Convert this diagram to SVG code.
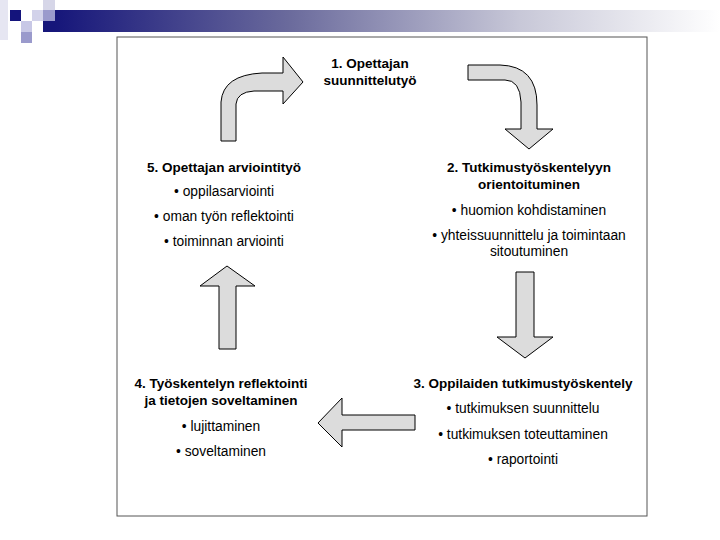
<svg xmlns="http://www.w3.org/2000/svg" width="720" height="540" viewBox="0 0 720 540">
<defs>
<linearGradient id="bar" x1="0" y1="0" x2="1" y2="0">
<stop offset="0" stop-color="#16167a"/>
<stop offset="0.35" stop-color="#6a6a9c"/>
<stop offset="0.7" stop-color="#c8c8d8"/>
<stop offset="1" stop-color="#ffffff"/>
</linearGradient>
<style>
.t{font-family:"Liberation Sans",Arial,sans-serif;font-size:13.5px;font-weight:bold;fill:#000;text-anchor:middle}
.b{font-family:"Liberation Sans",Arial,sans-serif;font-size:13.8px;fill:#000;text-anchor:middle}
.ar{fill:#dcdcdc;stroke:#000;stroke-width:1;stroke-linejoin:miter}
</style>
</defs>
<rect width="720" height="540" fill="#fff"/>
<g id="decor">
<rect x="55" y="10" width="665" height="22" fill="url(#bar)"/>
<rect x="43" y="21" width="12" height="11" fill="#16167a"/>
<rect x="0" y="0" width="8" height="40" fill="#e6e6f2"/>
<rect x="10" y="10" width="11" height="11" fill="#14147c"/>
<rect x="21" y="21" width="11" height="11" fill="#c8c8e6"/>
<rect x="21" y="32" width="11" height="11" fill="#9a9acc"/>
<rect x="32" y="10" width="11" height="11" fill="#d2d2ea"/>
<rect x="43" y="0" width="12" height="10" fill="#d6d6e8"/>
<rect x="43" y="10" width="12" height="11" fill="#9a9acc"/>
</g>
<rect id="frame" x="117" y="37" width="530" height="479" fill="#fff" stroke="#555" stroke-width="1"/>
<g id="connectors">
<path class="ar" d="M221,141 L221,102 Q223,75 262,73 L283,73 L283,57 L303,82 L283,104 L283,91 L254,91 Q237,92 236,104 L236,141 Z"/>
<path class="ar" d="M468,65 L500,65 Q537,66 537,105 L537,129 L553,129 L529,149 L505,129 L521,129 L521,102 Q520,80 505,80 L468,80 Z"/>
<path class="ar" d="M516,272 L534,272 L534,337 L553,337 L525,358 L497,337 L516,337 Z"/>
<path class="ar" d="M415,415 L415,430 L342,430 L342,447 L318,423 L342,398 L342,415 Z"/>
<path class="ar" d="M219,349 L236,349 L236,286 L255,286 L227,266 L200,286 L219,286 Z"/>
</g>
<g id="node1">
<text class="t" x="370" y="68">1. Opettajan</text>
<text class="t" x="370" y="85">suunnittelutyö</text>
</g>
<g id="node2">
<text class="t" x="529" y="172">2. Tutkimustyöskentelyyn</text>
<text class="t" x="529" y="189">orientoituminen</text>
<text class="b" x="529" y="215">• huomion kohdistaminen</text>
<text class="b" x="529" y="240">• yhteissuunnittelu ja toimintaan</text>
<text class="b" x="529" y="256">sitoutuminen</text>
</g>
<g id="node3">
<text class="t" x="523" y="388">3. Oppilaiden tutkimustyöskentely</text>
<text class="b" x="523" y="413">• tutkimuksen suunnittelu</text>
<text class="b" x="523" y="439">• tutkimuksen toteuttaminen</text>
<text class="b" x="523" y="464">• raportointi</text>
</g>
<g id="node4">
<text class="t" x="221" y="388">4. Työskentelyn reflektointi</text>
<text class="t" x="221" y="405">ja tietojen soveltaminen</text>
<text class="b" x="221" y="431">• lujittaminen</text>
<text class="b" x="221" y="456">• soveltaminen</text>
</g>
<g id="node5">
<text class="t" x="224" y="172">5. Opettajan arviointityö</text>
<text class="b" x="224" y="196">• oppilasarviointi</text>
<text class="b" x="224" y="221">• oman työn reflektointi</text>
<text class="b" x="224" y="246">• toiminnan arviointi</text>
</g>
</svg>
